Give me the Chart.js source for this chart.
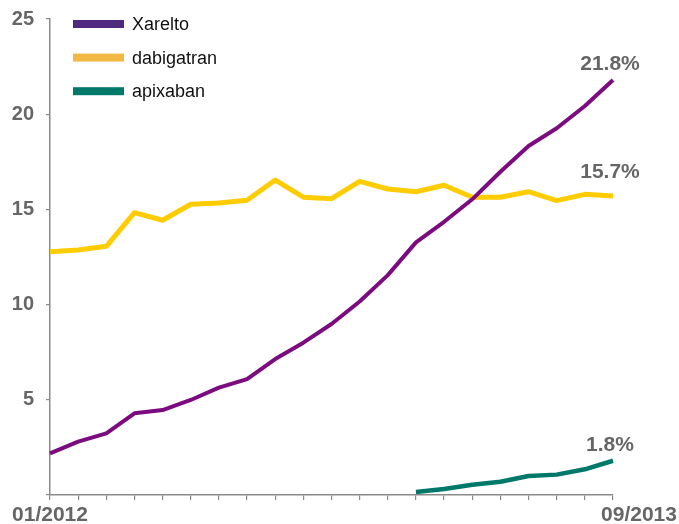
<!DOCTYPE html>
<html>
<head>
<meta charset="utf-8">
<script src="https://cdn.jsdelivr.net/npm/chart.js@4"></script>
<style>
  html, body { margin: 0; padding: 0; background: #fff; }
  #wrap { width: 679px; height: 524px; position: relative; }
</style>
</head>
<body>
<div id="wrap"><canvas id="share"></canvas></div>
<script>
var months = ['01/2012','02/2012','03/2012','04/2012','05/2012','06/2012','07/2012','08/2012','09/2012','10/2012','11/2012','12/2012',
              '01/2013','02/2013','03/2013','04/2013','05/2013','06/2013','07/2013','08/2013','09/2013'];
var xarelto = [2.19, 2.80, 3.24, 4.29, 4.46, 4.99, 5.64, 6.09, 7.14, 8.00, 8.98, 10.16, 11.55, 13.27, 14.35, 15.53, 16.98, 18.33, 19.26, 20.43, 21.8];
var dabigatran = [12.78, 12.87, 13.06, 14.83, 14.43, 15.27, 15.34, 15.48, 16.54, 15.64, 15.56, 16.47, 16.07, 15.93, 16.27, 15.64, 15.64, 15.93, 15.46, 15.79, 15.7];
var apixaban = [null, null, null, null, null, null, null, null, null, null, null, null, null, 0.16, 0.31, 0.54, 0.70, 1.0, 1.07, 1.35, 1.8];
var yTicks = [5, 10, 15, 20, 25];
var xShown = ['01/2012', '09/2013'];

var lineColors = ['#7c0b80', '#ffcc00', '#00796b'];
var legendColors = ['#4f2b7f', '#f2b844', '#00786a'];
var gray = '#666666';
var fontFam = '"Liberation Sans", Arial, sans-serif';

// legend drawn inside the plot, top left
var legendPlugin = {
  id: 'innerLegend',
  afterDraw: function(chart) {
    var c = chart.ctx;
    c.save();
    c.font = '18px ' + fontFam;
    c.textBaseline = 'middle';
    chart.data.datasets.forEach(function(ds, i) {
      var y = 24 + i * 33.6;
      c.fillStyle = legendColors[i];
      c.fillRect(73, y - 4, 51, 8);
      c.fillStyle = '#111';
      c.fillText(ds.label, 132, y + 1);
    });
    c.restore();
  }
};

// value at the end of each line + the two date labels
var textPlugin = {
  id: 'endText',
  afterDraw: function(chart) {
    var c = chart.ctx;
    var lift = [16, 24, 16];
    c.save();
    c.font = 'bold 21px ' + fontFam;
    c.fillStyle = gray;
    c.textAlign = 'center';
    c.textBaseline = 'middle';
    chart.data.datasets.forEach(function(ds, i) {
      var pts = chart.getDatasetMeta(i).data;
      var p = pts[pts.length - 1];
      var v = ds.data[ds.data.length - 1];
      c.fillText(v.toFixed(1) + '%', p.x - 3, p.y - lift[i]);
    });
    var xs = chart.scales.x;
    c.fillText(xShown[0], xs.getPixelForValue(months.indexOf(xShown[0])), 515);
    c.fillText(xShown[1], xs.getPixelForValue(months.indexOf(xShown[1])) + 26, 515);
    c.restore();
  }
};

var ctx = document.getElementById('share').getContext('2d');
var chart = new Chart(ctx, {
  type: 'line',
  data: {
    labels: months,
    datasets: [
      { label: 'Xarelto', data: xarelto, borderColor: lineColors[0], borderWidth: 4 },
      { label: 'dabigatran', data: dabigatran, borderColor: lineColors[1], borderWidth: 5 },
      { label: 'apixaban', data: apixaban, borderColor: lineColors[2], borderWidth: 4.5 }
    ]
  },
  options: {
    responsive: true,
    maintainAspectRatio: false,
    animation: false,
    layout: { padding: { top: 19, right: 66, left: 0, bottom: 0 } },
    elements: {
      point: { radius: 0 },
      line: { tension: 0, borderCapStyle: 'butt', borderJoinStyle: 'round', fill: false }
    },
    plugins: {
      legend: { display: false },
      tooltip: { enabled: false }
    },
    scales: {
      x: {
        offset: false,
        afterFit: function(s) { s.height = 29; s.paddingLeft = 0; s.paddingRight = 0; },
        border: { color: '#8a8a8a', width: 1.5 },
        grid: { drawOnChartArea: false, tickLength: 5, color: '#8a8a8a', lineWidth: 1.2 },
        ticks: { autoSkip: false, maxRotation: 0, callback: function() { return ''; } }
      },
      y: {
        min: 0,
        max: 25,
        afterFit: function(s) { s.width = 50; s.paddingTop = 0; s.paddingBottom = 0; },
        afterBuildTicks: function(s) {
          s.ticks = [0].concat(yTicks).map(function(v) { return { value: v }; });
        },
        border: { color: '#8a8a8a', width: 1.5 },
        grid: { drawOnChartArea: false, tickLength: 4, color: '#8a8a8a', lineWidth: 1.2 },
        ticks: {
          padding: 12,
          color: gray,
          font: { family: fontFam, size: 20, weight: 'bold' },
          callback: function(v) { return yTicks.indexOf(v) >= 0 ? v : ''; }
        }
      }
    }
  },
  plugins: [legendPlugin, textPlugin]
});
</script>
</body>
</html>
